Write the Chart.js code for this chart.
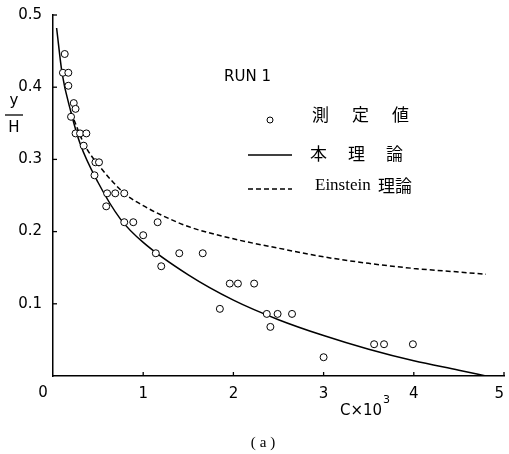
<!DOCTYPE html>
<html>
<head>
<meta charset="utf-8">
<script src="https://cdn.jsdelivr.net/npm/chart.js@4"></script>
<style>
	html, body { margin: 0; padding: 0; background: #fff; }
	#wrap { width: 509px; height: 454px; }
</style>
</head>
<body>
<div id="wrap"><canvas id="myChart" width="509" height="454"></canvas></div>
<script>
// 測定値
const measuredC = [0.13, 0.11, 0.17, 0.17, 0.23, 0.25, 0.20, 0.25, 0.30, 0.37, 0.34, 0.47, 0.51, 0.46,
	0.60, 0.69, 0.79, 0.59, 0.79, 0.89, 1.16, 1.00, 1.14, 1.20, 1.40, 1.66, 1.96, 2.05, 2.23,
	1.85, 2.37, 2.49, 2.65, 2.41, 3.00, 3.56, 3.67, 3.99];
const measuredY = [0.446, 0.42, 0.42, 0.402, 0.378, 0.37, 0.359, 0.336, 0.336, 0.336, 0.319, 0.296, 0.296, 0.278,
	0.253, 0.253, 0.253, 0.235, 0.213, 0.213, 0.213, 0.195, 0.17, 0.152, 0.17, 0.17, 0.128, 0.128, 0.128,
	0.093, 0.086, 0.086, 0.086, 0.068, 0.026, 0.044, 0.044, 0.044];

// 本理論
const theoryC = [0.04, 0.1, 0.2, 0.3, 0.5, 0.75, 1.0, 1.5, 2.0, 2.5, 3.0, 3.5, 4.0, 4.5, 4.8];
const theoryY = [0.482, 0.42, 0.365, 0.322, 0.268, 0.217, 0.185, 0.14, 0.105, 0.078, 0.056, 0.037, 0.021, 0.008, 0.0];

// Einstein理論
const einsteinC = [0.2, 0.35, 0.5, 0.8, 1.0, 1.2, 1.5, 2.0, 2.5, 3.0, 3.5, 4.0, 4.5, 4.8];
const einsteinY = [0.365, 0.32, 0.293, 0.252, 0.236, 0.223, 0.207, 0.19, 0.177, 0.165, 0.156, 0.149, 0.144, 0.141];

const xTicks = [0, 1, 2, 3, 4, 5];
const yTicks = [0, 0.1, 0.2, 0.3, 0.4, 0.5];

function toPoints(xs, ys) {
	let pts = [];
	for (let i = 0; i < xs.length; i++) {
		pts.push({ x: xs[i], y: ys[i] });
	}
	return pts;
}

const tickFont = { family: "DejaVu Sans", size: 15 };

// 目盛り（内向き）と文字
const decor = {
	id: "decor",
	afterDraw(chart) {
		const ctx = chart.ctx;
		const xs = chart.scales.x;
		const ys = chart.scales.y;
		const area = chart.chartArea;

		ctx.save();
		ctx.strokeStyle = "#000";
		ctx.lineWidth = 1.3;
		for (let v of xTicks) {
			if (v === 0) continue;
			let px = xs.getPixelForValue(v);
			ctx.beginPath();
			ctx.moveTo(px, area.bottom);
			ctx.lineTo(px, area.bottom - 4);
			ctx.stroke();
		}
		for (let v of yTicks) {
			if (v === 0) continue;
			let py = ys.getPixelForValue(v);
			ctx.beginPath();
			ctx.moveTo(area.left, py);
			ctx.lineTo(area.left + 4, py);
			ctx.stroke();
		}

		ctx.fillStyle = "#000";
		ctx.textBaseline = "middle";

		// 原点の 0
		ctx.font = "15px 'DejaVu Sans'";
		ctx.textAlign = "center";
		ctx.fillText("0", 43, 393);

		// y/H
		ctx.fillText("y", 14, 101);
		ctx.fillText("H", 14, 128);
		ctx.beginPath();
		ctx.moveTo(5, 115);
		ctx.lineTo(23, 115);
		ctx.stroke();

		// C×10³
		ctx.textAlign = "left";
		ctx.fillText("C×10", 340, 411);
		ctx.font = "11px 'DejaVu Sans'";
		ctx.fillText("3", 383, 400);

		// RUN 1
		ctx.font = "15px 'DejaVu Sans'";
		ctx.fillText("RUN 1", 224, 77);

		// 凡例
		ctx.beginPath();
		ctx.arc(270, 120, 3, 0, Math.PI * 2);
		ctx.lineWidth = 1;
		ctx.stroke();

		ctx.lineWidth = 1.5;
		ctx.beginPath();
		ctx.moveTo(248, 155);
		ctx.lineTo(292, 155);
		ctx.stroke();

		ctx.setLineDash([5, 3]);
		ctx.beginPath();
		ctx.moveTo(248, 189);
		ctx.lineTo(292, 189);
		ctx.stroke();
		ctx.setLineDash([]);

		ctx.font = "17px 'Noto Sans CJK JP'";
		ctx.letterSpacing = "23px";
		ctx.fillText("測定値", 312, 115);
		ctx.letterSpacing = "21px";
		ctx.fillText("本理論", 310, 154);
		ctx.letterSpacing = "0px";

		ctx.font = "17px 'Liberation Serif'";
		ctx.fillText("Einstein", 315, 186);
		ctx.font = "17px 'Noto Sans CJK JP'";
		ctx.fillText("理論", 378, 186);

		// (a)
		ctx.font = "15px 'Liberation Serif'";
		ctx.textAlign = "center";
		ctx.letterSpacing = "4px";
		ctx.fillText("(a)", 265, 443);
		ctx.letterSpacing = "0px";

		ctx.restore();
	}
};

const ctx = document.getElementById("myChart");

new Chart(ctx, {
	type: "scatter",
	data: {
		datasets: [
			{
				label: "測定値",
				data: toPoints(measuredC, measuredY),
				showLine: false,
				pointRadius: 3.5,
				pointBorderWidth: 1,
				pointBorderColor: "#000",
				pointBackgroundColor: "#fff"
			},
			{
				label: "本理論",
				data: toPoints(theoryC, theoryY),
				showLine: true,
				pointRadius: 0,
				borderColor: "#000",
				borderWidth: 1.5,
				cubicInterpolationMode: "monotone"
			},
			{
				label: "Einstein理論",
				data: toPoints(einsteinC, einsteinY),
				showLine: true,
				pointRadius: 0,
				borderColor: "#000",
				borderWidth: 1.5,
				borderDash: [5, 3],
				cubicInterpolationMode: "monotone"
			}
		]
	},
	options: {
		responsive: false,
		animation: false,
		layout: { padding: { top: 15, right: -4, left: 0, bottom: 0 } },
		plugins: {
			legend: { display: false },
			tooltip: { enabled: false }
		},
		scales: {
			x: {
				type: "linear",
				min: 0,
				max: 5,
				afterFit(scale) { scale.height = 78; },
				afterBuildTicks(scale) { scale.ticks = xTicks.map(v => ({ value: v })); },
				border: { color: "#000", width: 1.5 },
				grid: { display: false },
				ticks: {
					color: "#000",
					font: tickFont,
					padding: 1,
					align: "inner",
					maxRotation: 0,
					callback: v => (v === 0 ? "" : String(v))
				}
			},
			y: {
				type: "linear",
				min: 0,
				max: 0.5,
				afterFit(scale) { scale.width = 53; },
				afterBuildTicks(scale) { scale.ticks = yTicks.map(v => ({ value: v })); },
				border: { color: "#000", width: 1.5 },
				grid: { display: false },
				ticks: {
					color: "#000",
					font: tickFont,
					padding: 3,
					callback: v => (v === 0 ? "" : v.toFixed(1))
				}
			}
		}
	},
	plugins: [decor]
});
</script>
</body>
</html>
